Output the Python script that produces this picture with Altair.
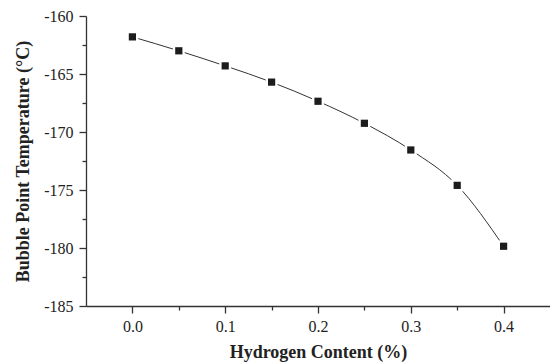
import altair as alt
import pandas as pd

hydrogen = [0.0, 0.05, 0.1, 0.15, 0.2, 0.25, 0.3, 0.35, 0.4]
temperature = [-161.8, -163.0, -164.3, -165.7, -167.35, -169.25, -171.55, -174.6, -179.85]

df = pd.DataFrame({"h": hydrogen, "t": temperature})

x_major = [0.0, 0.1, 0.2, 0.3, 0.4]
x_minor = [0.05, 0.15, 0.25, 0.35]
y_major = [-185, -180, -175, -170, -165, -160]
y_minor = [-182.5, -177.5, -172.5, -167.5, -162.5]

FONT = "Liberation Serif"
INK = "#222222"

x_scale = alt.Scale(domain=[-0.05, 0.45], nice=False, zero=False)
y_scale = alt.Scale(domain=[-185, -160], nice=False, zero=False)

x_major_axis = alt.Axis(
    orient="bottom",
    title="Hydrogen Content (%)",
    values=x_major,
    format=".1f",
    tickSize=7,
    grid=False,
    labelPadding=5,
    titlePadding=9,
)
y_major_axis = alt.Axis(
    orient="left",
    title="Bubble Point Temperature (°C)",
    values=y_major,
    labelExpr="'' + datum.value",
    tickSize=7,
    grid=False,
    labelPadding=6,
    titlePadding=11,
)
x_minor_axis = alt.Axis(
    orient="bottom", title=None, values=x_minor, labels=False, domain=False, tickSize=4, grid=False
)
y_minor_axis = alt.Axis(
    orient="left", title=None, values=y_minor, labels=False, domain=False, tickSize=4, grid=False
)

base = alt.Chart(df)

line = base.mark_line(interpolate="monotone", color="#333333", strokeWidth=1).encode(
    x=alt.X("h:Q", scale=x_scale, axis=x_major_axis),
    y=alt.Y("t:Q", scale=y_scale, axis=y_major_axis),
)
halo = base.mark_point(shape="square", size=140, filled=True, color="white", opacity=1).encode(
    x=alt.X("h:Q", scale=x_scale, axis=x_minor_axis),
    y=alt.Y("t:Q", scale=y_scale, axis=y_minor_axis),
)
pts = base.mark_point(shape="square", size=52, filled=True, color="#1c1c1c", opacity=1).encode(
    x=alt.X("h:Q", scale=x_scale, axis=None),
    y=alt.Y("t:Q", scale=y_scale, axis=None),
)

chart = (
    alt.layer(line, halo, pts)
    .resolve_axis(x="independent", y="independent")
    .properties(
        width=464,
        height=290,
        background="white",
        autosize=alt.AutoSizeParams(type="none"),
        padding={"left": 86, "top": 16, "right": 0, "bottom": 57},
    )
    .configure_view(stroke=None)
    .configure_axis(
        domainColor="#333333",
        tickColor="#333333",
        domainWidth=1.3,
        tickWidth=1.3,
        labelFont=FONT,
        labelFontSize=16,
        labelColor=INK,
        titleFont=FONT,
        titleFontSize=18,
        titleFontWeight="bold",
        titleColor=INK,
    )
)

chart.save("out.html", embed_options={"renderer": "svg", "actions": False})
